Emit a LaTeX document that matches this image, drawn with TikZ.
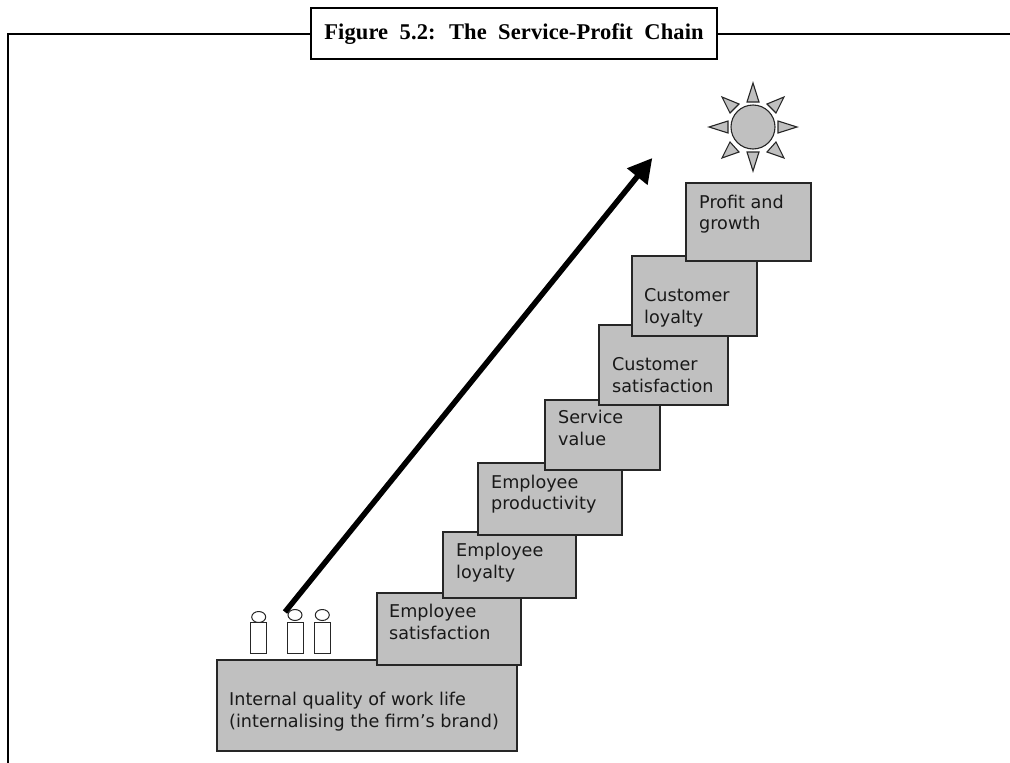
\documentclass[tikz,border=0pt]{standalone}
\usepackage{fontspec}
\setmainfont{DejaVu Sans}
\newfontfamily\titlefont[LetterSpace=0.5,WordSpace=2]{Liberation Serif}
\usetikzlibrary{arrows.meta}
\definecolor{stepgray}{RGB}{192,192,192}
\tikzset{
  x=1pt,y=-1pt,
  frameline/.style={draw=black,line width=2pt},
  stepbox/.style={draw=black!85,fill=stepgray,line width=1.2pt},
  steptext/.style={anchor=base west,align=left,font=\fontsize{17.6}{21.5}\selectfont,text=black!90,inner sep=0pt},
  person/.style={draw=black!85,fill=white,line width=1pt},
  ray/.style={draw=black!85,fill=stepgray,line width=1.1pt,line join=miter},
}
\begin{document}
\begin{tikzpicture}
\useasboundingbox (0,0) rectangle (1010,763);
\coordinate (fa) at (7.5,763);
\coordinate (fb) at (7.5,33.5);
\coordinate (fc) at (1010,33.5);
\draw[frameline] (fa) -- (fb) -- (fc);
\node[draw=black,fill=white,line width=2pt,minimum width=406,minimum height=51,inner sep=0pt] (title) at (514,33) {};
\node[inner sep=0pt,font=\titlefont\bfseries\fontsize{22.5}{26}\selectfont] (titletext) at (514,34.5) {Figure 5.2: The Service-Profit Chain};

\draw[stepbox] (217,660) rectangle (517,751);
\node[steptext] (t0) at (229,727) {Internal quality of work life\\(internalising the firm’s brand)};
\draw[stepbox] (377,593) rectangle (521,665);
\node[steptext] (t1) at (389,639) {Employee\\satisfaction};
\draw[stepbox] (443,532) rectangle (576,598);
\node[steptext] (t2) at (456,578) {Employee\\loyalty};
\draw[stepbox] (478,463) rectangle (622,535);
\node[steptext] (t3) at (491,509.5) {Employee\\productivity};
\draw[stepbox] (545,400) rectangle (660,470);
\node[steptext] (t4) at (558,445) {Service\\value};
\draw[stepbox] (599,325) rectangle (728,405);
\node[steptext] (t5) at (612,392) {Customer\\satisfaction};
\draw[stepbox] (632,256) rectangle (757,336);
\node[steptext] (t6) at (644,323) {Customer\\loyalty};
\draw[stepbox] (686,183) rectangle (811,261);
\node[steptext] (t7) at (699,229.5) {Profit and\\growth};

\draw[person] (258.7,617) ellipse (7 and 5.5);
\draw[person] (295,615) ellipse (7 and 5.5);
\draw[person] (322.3,615) ellipse (7 and 5.5);
\draw[person] (250.3,622) rectangle (266.7,653);
\draw[person] (287,622) rectangle (303,653);
\draw[person] (314,622) rectangle (330.5,653);

\coordinate (as) at (285,612);
\coordinate (ae) at (652.3,158);
\draw[line width=5.5pt,-{Triangle[length=24pt,width=25pt]}] (as) -- (ae);

\node[circle,draw=black!85,fill=stepgray,line width=1.1pt,minimum size=44,inner sep=0pt] (sun) at (753,127) {};
\draw[ray] (747,102) -- (753,83) -- (759,102) -- cycle;
\draw[ray] (747,152) -- (753,171) -- (759,152) -- cycle;
\draw[ray] (728,121) -- (709,127) -- (728,133) -- cycle;
\draw[ray] (778,121) -- (797,127) -- (778,133) -- cycle;
\draw[ray] (722,97) -- (739,104) -- (730,113) -- cycle;
\draw[ray] (784,97) -- (767,104) -- (776,113) -- cycle;
\draw[ray] (722,158) -- (730,142) -- (739,152) -- cycle;
\draw[ray] (784,158) -- (776,142) -- (767,152) -- cycle;
\end{tikzpicture}
\end{document}
